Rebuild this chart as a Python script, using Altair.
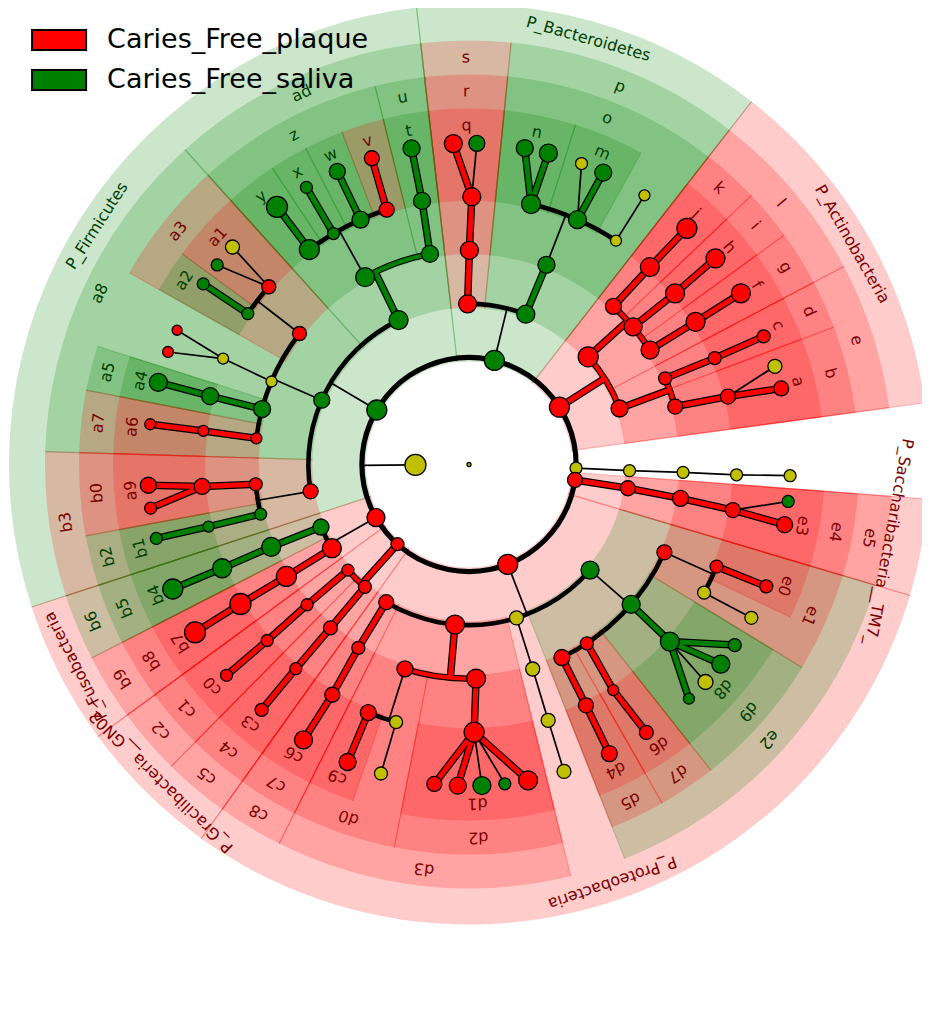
import math
import pandas as pd
import altair as alt

CLASSES = ["Caries_Free_plaque", "Caries_Free_saliva"]
GROUP = {"p": "Caries_Free_plaque", "s": "Caries_Free_saliva", "n": "none"}

# (id, parent, level, group, angle [deg clockwise from top], abundance score, clade label)
root_nodes = [
    ("root", None, 0, "n", 0.0, 2.0, ""),
    ("K", "root", 1, "n", 269.5, 10.5, ""),
]
bacteroidetes = [
    ("Bact", "K", 2, "s", 13.7, 10, "P_Bacteroidetes"),
    ("Bs", "Bact", 3, "p", -0.5, 9, "s"),
    ("Br", "Bs", 4, "p", 0.1, 9, "r"),
    ("Bq", "Br", 5, "p", 0.6, 9, "q"),
    ("Bq1", "Bq", 6, "p", -2.8, 9, ""),
    ("Bq2", "Bq", 6, "s", 1.4, 8, ""),
    ("Bp", "Bact", 3, "s", 20.7, 9, "p"),
    ("Bo", "Bp", 4, "s", 21.2, 8.5, "o"),
    ("Bn", "Bo", 5, "s", 13.4, 9.5, "n"),
    ("Bn1", "Bn", 6, "s", 10.0, 8.5, ""),
    ("Bn2", "Bn", 6, "s", 14.3, 9, ""),
    ("Bm", "Bo", 5, "s", 23.9, 9, "m"),
    ("Bm1", "Bm", 6, "n", 20.5, 6, ""),
    ("Bm2", "Bm", 6, "s", 24.7, 8.5, ""),
    ("Bf", "Bo", 5, "n", 33.3, 5.5, ""),
    ("Bf1", "Bf", 6, "n", 33.1, 5.5, ""),
]
actinobacteria = [
    ("Act", "K", 2, "p", 57.6, 10, "P_Actinobacteria"),
    ("Al", "Act", 3, "p", 47.9, 10, "l"),
    ("Ak", "Al", 4, "p", 42.4, 8, "k"),
    ("Aj", "Ak", 5, "p", 42.5, 9.5, "j"),
    ("Aj1", "Aj", 6, "p", 42.7, 10, ""),
    ("Ai", "Al", 4, "p", 50.0, 9, "i"),
    ("Ah", "Ai", 5, "p", 50.3, 9.5, "h"),
    ("Ah1", "Ah", 6, "p", 50.1, 9.5, ""),
    ("Ag", "Al", 4, "p", 57.7, 9, "g"),
    ("Af", "Ag", 5, "p", 57.8, 9.5, "f"),
    ("Af1", "Af", 6, "p", 57.8, 9.5, ""),
    ("Ae", "Act", 3, "p", 69.6, 8.5, "e"),
    ("Ad", "Ae", 4, "p", 66.3, 6.5, "d"),
    ("Ac", "Ad", 5, "p", 66.6, 6.5, "c"),
    ("Ac1", "Ac", 6, "p", 66.5, 6.5, ""),
    ("Ab", "Ae", 4, "p", 74.3, 7.5, "b"),
    ("Aa", "Ab", 5, "p", 75.3, 7.5, "a"),
    ("Aa1", "Aa", 6, "n", 72.2, 7, ""),
    ("Aa2", "Aa", 6, "p", 76.3, 7.5, ""),
]
unnamed_phylum = [
    ("Y", "K", 2, "n", 91.9, 6, ""),
    ("Y3", "Y", 3, "n", 92.2, 6, ""),
    ("Y4", "Y3", 4, "n", 92.1, 6, ""),
    ("Y5", "Y4", 5, "n", 92.2, 6, ""),
    ("Y6", "Y5", 6, "n", 92.0, 6, ""),
]
saccharibacteria = [
    ("Sac", "K", 2, "p", 98.3, 7.5, "P_Saccharibacteria__TM7_"),
    ("S3", "Sac", 3, "p", 98.5, 7.5, "e5"),
    ("S4", "S3", 4, "p", 99.1, 8, "e4"),
    ("S5", "S4", 5, "p", 99.8, 7.5, "e3"),
    ("S6a", "S5", 6, "s", 96.6, 6, ""),
    ("S6b", "S5", 6, "p", 100.8, 8, ""),
]
proteobacteria = [
    ("Pro", "K", 2, "p", 158.8, 10, "P_Proteobacteria"),
    ("Pe2", "Pro", 3, "s", 131.1, 9, "e2"),
    ("Pe1", "Pe2", 4, "p", 114.2, 7.5, "e1"),
    ("Pe0", "Pe1", 5, "p", 112.4, 6.5, "e0"),
    ("Pe0g", "Pe0", 6, "p", 112.3, 6.5, ""),
    ("Pyf", "Pe1", 5, "n", 118.6, 6.5, ""),
    ("Pyfg", "Pyf", 6, "n", 118.5, 6.5, ""),
    ("Pd9", "Pe2", 4, "s", 130.8, 9, "d9"),
    ("Pd8", "Pd9", 5, "s", 131.4, 9.5, "d8"),
    ("Pd8a", "Pd8", 6, "s", 124.2, 6.5, ""),
    ("Pd8b", "Pd8", 6, "s", 128.4, 9, ""),
    ("Pd8c", "Pd8", 6, "n", 132.6, 7.5, ""),
    ("Pd8d", "Pd8", 6, "s", 136.8, 5.5, ""),
    ("Pd7", "Pe2", 4, "p", 146.6, 6.5, "d7"),
    ("Pd6", "Pd7", 5, "p", 147.4, 5.5, "d6"),
    ("Pd6g", "Pd6", 6, "p", 146.5, 7, ""),
    ("Pd5", "Pe2", 4, "p", 154.3, 8, "d5"),
    ("Pd4", "Pd5", 5, "p", 154.1, 7.5, "d4"),
    ("Pd4g", "Pd4", 6, "p", 154.1, 8, ""),
    ("Pyc", "Pro", 3, "n", 162.8, 7, ""),
    ("Pyo", "Pyc", 4, "n", 162.7, 7, ""),
    ("Pyf2", "Pyo", 5, "n", 162.8, 7, ""),
    ("Pyg2", "Pyf2", 6, "n", 162.8, 7, ""),
    ("Pd3", "Pro", 3, "p", 185.0, 9.5, "d3"),
    ("Pd2", "Pd3", 4, "p", 178.1, 9.5, "d2"),
    ("Pd1", "Pd2", 5, "p", 178.9, 10, "d1"),
    ("Pd1a", "Pd1", 6, "p", 169.4, 9.5, ""),
    ("Pd1b", "Pd1", 6, "s", 173.6, 6, ""),
    ("Pd1c", "Pd1", 6, "s", 177.7, 9, ""),
    ("Pd1d", "Pd1", 6, "p", 182.0, 8.5, ""),
    ("Pd1e", "Pd1", 6, "p", 186.2, 7.5, ""),
    ("Pd0", "Pd3", 4, "p", 197.4, 8, "d0"),
    ("Pyf3", "Pd0", 5, "n", 195.8, 6.5, ""),
    ("Pyg3", "Pyf3", 6, "n", 195.9, 6.5, ""),
    ("Pc9", "Pd0", 5, "p", 202.1, 8, "c9"),
    ("Pc9g", "Pc9", 6, "p", 202.2, 8.5, ""),
    ("Pc8", "Pro", 3, "p", 211.0, 7.5, "c8"),
    ("Pc7", "Pc8", 4, "p", 211.1, 6.5, "c7"),
    ("Pc6", "Pc7", 5, "p", 210.7, 7.5, "c6"),
    ("Pc6g", "Pc6", 6, "p", 211.0, 9, ""),
]
gracilibacteria = [
    ("GN", "K", 2, "p", 221.9, 6.5, "P_Gracilibacteria__GN02_"),
    ("Gc5", "GN", 3, "p", 220.4, 6.5, "c5"),
    ("Gc4", "Gc5", 4, "p", 220.3, 7, "c4"),
    ("Gc3", "Gc4", 5, "p", 220.3, 6, "c3"),
    ("Gc3g", "Gc3", 6, "p", 220.2, 6.5, ""),
    ("Gc2", "GN", 3, "p", 228.9, 6, "c2"),
    ("Gc1", "Gc2", 4, "p", 229.1, 6, "c1"),
    ("Gc0", "Gc1", 5, "p", 228.9, 6, "c0"),
    ("Gc0g", "Gc0", 6, "p", 229.0, 6, ""),
]
fusobacteria = [
    ("Fus", "K", 2, "p", 240.3, 9, "P_Fusobacteria"),
    ("Fb9", "Fus", 3, "p", 238.6, 9.5, "b9"),
    ("Fb8", "Fb9", 4, "p", 238.5, 10, "b8"),
    ("Fb7", "Fb8", 5, "p", 238.6, 10.5, "b7"),
    ("Fb7g", "Fb7", 6, "p", 238.5, 10.5, ""),
    ("Fb6", "Fus", 3, "s", 247.1, 8, "b6"),
    ("Fb5", "Fb6", 4, "s", 247.4, 9.5, "b5"),
    ("Fb4", "Fb5", 5, "s", 247.2, 9.5, "b4"),
    ("Fb4g", "Fb4", 6, "s", 247.2, 10, ""),
]
firmicutes = [
    ("Fi", "K", 2, "s", 300.6, 10, "P_Firmicutes"),
    ("Fb3", "Fi", 3, "p", 260.4, 7.5, "b3"),
    ("Fb2", "Fb3", 4, "s", 256.6, 6, "b2"),
    ("Fb1", "Fb2", 5, "s", 256.6, 5.5, "b1"),
    ("Fb1g", "Fb1", 6, "s", 256.7, 6, ""),
    ("Fb0", "Fb3", 4, "p", 264.7, 6.5, "b0"),
    ("Fa9", "Fb0", 5, "p", 265.3, 8, "a9"),
    ("Fa9a", "Fa9", 6, "p", 262.2, 6, ""),
    ("Fa9b", "Fa9", 6, "p", 266.3, 8, ""),
    ("Fa8", "Fi", 3, "s", 293.6, 8, "a8"),
    ("Fa7", "Fa8", 4, "p", 277.0, 5.5, "a7"),
    ("Fa6", "Fa7", 5, "p", 277.2, 5.5, "a6"),
    ("Fa6g", "Fa6", 6, "p", 277.2, 5.5, ""),
    ("Fa5", "Fa8", 4, "s", 285.0, 8.5, "a5"),
    ("Fa4", "Fa5", 5, "s", 284.8, 8.5, "a4"),
    ("Fa4g", "Fa4", 6, "s", 284.8, 9, ""),
    ("Fyo", "Fa8", 4, "n", 292.8, 5.5, ""),
    ("Fyf", "Fyo", 5, "n", 293.3, 5.5, ""),
    ("Fyg1", "Fyf", 6, "p", 290.5, 5.5, ""),
    ("Fyg2", "Fyf", 6, "p", 294.7, 5, ""),
    ("Fa3", "Fa8", 4, "p", 307.7, 7, "a3"),
    ("Fa2", "Fa3", 5, "s", 304.3, 6, "a2"),
    ("Fa2g", "Fa2", 6, "s", 304.2, 6, ""),
    ("Fa1", "Fa3", 5, "p", 311.6, 7, "a1"),
    ("Fa1a", "Fa1", 6, "s", 308.4, 6, ""),
    ("Fa1b", "Fa1", 6, "n", 312.6, 7, ""),
    ("Fad", "Fi", 3, "s", 334.0, 9.5, "ad"),
    ("Fz", "Fad", 4, "s", 331.0, 9.5, "z"),
    ("Fy", "Fz", 5, "s", 323.4, 10, "y"),
    ("Fyg", "Fy", 6, "s", 323.3, 10.5, ""),
    ("Fx", "Fz", 5, "s", 329.6, 6, "x"),
    ("Fxg", "Fx", 6, "s", 329.6, 6, ""),
    ("Fw", "Fz", 5, "s", 336.1, 8.5, "w"),
    ("Fwg", "Fw", 6, "s", 335.8, 8, ""),
    ("Fv", "Fz", 5, "p", 342.1, 7.5, "v"),
    ("Fvg", "Fv", 6, "p", 342.4, 7.5, ""),
    ("Fuo", "Fad", 4, "s", 349.5, 8.5, "u"),
    ("Ft", "Fuo", 5, "s", 349.9, 8.5, "t"),
    ("Ftg", "Ft", 6, "s", 349.7, 8.5, ""),
]

ALL = (root_nodes + bacteroidetes + actinobacteria + unnamed_phylum + saccharibacteria
       + proteobacteria + gracilibacteria + fusobacteria + firmicutes)

# ---------------- layout ----------------
W, H = 914, 1015
CX, CY = 461.0, 456.5           # centre of the cladogram inside the plot area
STEP = 53.55                    # radial distance between taxonomic levels
WEDGE_OUT = {2: 460, 3: 424, 4: 390, 5: 356}
LABEL_R = {2: 442, 3: 407, 4: 373, 5: 339}
PAD_MAX = 6.0
FS = 16

nodes = {}
for nid, par, lvl, g, ang, ab, lab in ALL:
    nodes[nid] = dict(id=nid, parent=par, level=lvl, grp=g, ang=ang, ab=ab, label=lab)
children = {k: [] for k in nodes}
for n in nodes.values():
    if n["parent"]:
        children[n["parent"]].append(n["id"])


def rad(level):
    return level * STEP


def xy(ang, r):
    a = math.radians(ang)
    return r * math.sin(a), -r * math.cos(a)


def leaves(nid):
    ch = children[nid]
    if not ch:
        return [nodes[nid]["ang"]]
    out = []
    for c in ch:
        out += leaves(c)
    return out


def fit_radius(mid, r, text):
    """pull a straight tangential label inwards until its box stays inside the plot area"""
    half = 0.58 * FS * len(text) / 2
    a = math.radians(mid)
    ext = abs(math.cos(a)) * half + abs(math.sin(a)) * FS * 0.62
    while r > 0:
        x, _ = xy(mid, r)
        if CX + x + ext <= W - 3 and CX + x - ext >= 3:
            break
        r -= 1
    return r


all_leaves = sorted(n["ang"] for n in nodes.values() if n["level"] == 6)

wedge_rows, label_rows, edge_rows = [], [], []
for n in sorted(nodes.values(), key=lambda d: d["level"]):
    if n["grp"] == "n" or not n["label"] or n["level"] < 2:
        continue
    lv = leaves(n["id"])
    a0, a1 = min(lv), max(lv)
    prev = max([a for a in all_leaves if a < a0] or [all_leaves[-1] - 360])
    nxt = min([a for a in all_leaves if a > a1] or [all_leaves[0] + 360])
    t0 = a0 - min(PAD_MAX, (a0 - prev) / 2)
    t1 = a1 + min(PAD_MAX, (nxt - a1) / 2)
    r0, r1 = rad(n["level"]) - 4, WEDGE_OUT[n["level"]]
    wedge_rows.append(dict(t0=t0, t1=t1, r0=r0, r1=r1, key=GROUP[n["grp"]]))
    for t in (t0, t1):
        ax_, ay_ = xy(t, r0)
        bx_, by_ = xy(t, r1)
        edge_rows.append(dict(x=ax_, y=ay_, x2=bx_, y2=by_, key=GROUP[n["grp"]]))
    mid = (t0 + t1) / 2
    lr = fit_radius(mid, LABEL_R[n["level"]], n["label"])
    x, y = xy(mid, lr)
    label_rows.append(dict(x=x, y=y, rot=mid % 360, text=n["label"],
                           key=GROUP[n["grp"]] + "_label"))

thin, thick, arcs_black, arcs_col = [], [], [], []
K = nodes["K"]
kx, ky = xy(K["ang"], rad(1))
ex, ey = xy(K["ang"], rad(2))
thin.append(dict(x=kx, y=ky, x2=ex, y2=ey, key="black"))
arcs_black.append(dict(t0=0, t1=360, r0=rad(2) - 2.6, r1=rad(2) + 2.6, key="black"))

for n in nodes.values():
    lvl = n["level"]
    ch = [nodes[c] for c in children[n["id"]]]
    if lvl < 2 or not ch:
        continue
    px, py = xy(n["ang"], rad(lvl))
    if lvl == 5 or len(ch) == 1:
        for c in ch:
            same = c["grp"] == n["grp"] and n["grp"] != "n"
            cx, cy = xy(c["ang"], rad(lvl + 1))
            row = dict(x=px, y=py, x2=cx, y2=cy, key=GROUP[n["grp"]] if same else "black")
            (thick if same else thin).append(row)
    else:
        same = all(c["grp"] == n["grp"] for c in ch) and n["grp"] != "n"
        rc = rad(lvl + 1)
        qx, qy = xy(n["ang"], rc)
        row = dict(x=px, y=py, x2=qx, y2=qy, key=GROUP[n["grp"]] if same else "black")
        (thick if same else thin).append(row)
        angs = [c["ang"] for c in ch] + [n["ang"]]
        half = 2.6 if same else 2.3
        arc = dict(t0=min(angs), t1=max(angs), r0=rc - half, r1=rc + half,
                   key=GROUP[n["grp"]] if same else "black")
        (arcs_col if same else arcs_black).append(arc)

node_rows = []
for n in nodes.values():
    x, y = xy(n["ang"], rad(n["level"]))
    node_rows.append(dict(x=x, y=y, ab=n["ab"], key=GROUP[n["grp"]]))

# ---------------- scales ----------------
xs = alt.Scale(domain=[-CX, W - CX], range=[0, W], nice=False, zero=False)
ys = alt.Scale(domain=[-CY, H - CY], range=[0, H], nice=False, zero=False)
ts = alt.Scale(domain=[0, 360], range=[0, 2 * math.pi], nice=False, zero=False)
rs = alt.Scale(type="linear", domain=[0, 500], range=[0, 500], nice=False, zero=True)
COLOR_KEYS = CLASSES + ["none", "black", "Caries_Free_plaque_label", "Caries_Free_saliva_label"]
COLOR_RANGE = ["#ff0000", "#008000", "#c0c000", "#000000", "#7a0000", "#004000"]
cs = alt.Scale(domain=COLOR_KEYS, range=COLOR_RANGE)


def X(f):
    return alt.X(f, type="quantitative", scale=xs, axis=None)


def Y(f):
    return alt.Y(f, type="quantitative", scale=ys, axis=None)


def COL():
    return alt.Color("key:N", scale=cs, legend=None)


def arc_layer(rows, **mark):
    return alt.Chart(pd.DataFrame(rows)).mark_arc(**mark).encode(
        x=alt.XDatum(0, type="quantitative", scale=xs, axis=None),
        y=alt.YDatum(0, type="quantitative", scale=ys, axis=None),
        theta=alt.Theta("t0:Q", scale=ts, stack=False),
        theta2="t1:Q",
        radius=alt.Radius("r1:Q", scale=rs),
        radius2="r0:Q",
        color=COL(),
    )


def rule_layer(rows, **mark):
    return alt.Chart(pd.DataFrame(rows)).mark_rule(**mark).encode(
        x=X("x"), y=Y("y"), x2="x2:Q", y2="y2:Q", color=COL()
    )


wedges = arc_layer(wedge_rows, fillOpacity=0.2)
wedge_edges = rule_layer(edge_rows, strokeWidth=1.2, strokeOpacity=0.22)
thin_l = rule_layer(thin, strokeWidth=1.7)
black_arcs = arc_layer(arcs_black)
thick_out = alt.Chart(pd.DataFrame(thick)).mark_rule(strokeWidth=7.5, color="black").encode(
    x=X("x"), y=Y("y"), x2="x2:Q", y2="y2:Q"
)
col_arcs = arc_layer(arcs_col, stroke="black", strokeWidth=1.1)
thick_l = rule_layer(thick, strokeWidth=5)

node_layer = alt.Chart(pd.DataFrame(node_rows)).mark_point(
    shape="circle", filled=True, stroke="black", strokeWidth=1.3, opacity=1
).encode(
    x=X("x"), y=Y("y"),
    size=alt.Size("ab:Q", scale=alt.Scale(type="pow", exponent=2, domain=[0, 12], range=[0, 576]),
                  legend=None),
    fill=alt.Fill(
        "key:N", title=None,
        scale=alt.Scale(domain=CLASSES + ["none"], range=["#ff0000", "#008000", "#c0c000"]),
        legend=alt.Legend(
            values=CLASSES, orient="none", legendX=36.6, legendY=17.6, padding=0, offset=0,
            direction="vertical",
            symbolType="M-2,-0.74L2,-0.74L2,0.74L-2,0.74Z", symbolSize=729,
            symbolStrokeColor="black", symbolStrokeWidth=2, symbolOpacity=1,
            labelFont="DejaVu Sans", labelFontSize=27, labelColor="black", labelLimit=600,
            labelOffset=33.5, rowPadding=11,
        ),
    ),
)

text_layer = alt.Chart(pd.DataFrame(label_rows)).mark_text(
    font="DejaVu Sans", fontSize=FS, align="center", baseline="middle"
).encode(
    x=X("x"), y=Y("y"), text="text:N",
    angle=alt.Angle("rot:Q", scale=alt.Scale(domain=[0, 360], range=[0, 360])),
    color=COL(),
)

chart = alt.layer(
    wedges, wedge_edges, thin_l, black_arcs, thick_out, col_arcs, thick_l, node_layer, text_layer
).properties(
    width=W, height=H, autosize=alt.AutoSizeParams(type="none"), padding=0, background="white"
).configure_view(strokeWidth=0)

chart.save("out.html", embed_options={"renderer": "svg", "actions": False})
